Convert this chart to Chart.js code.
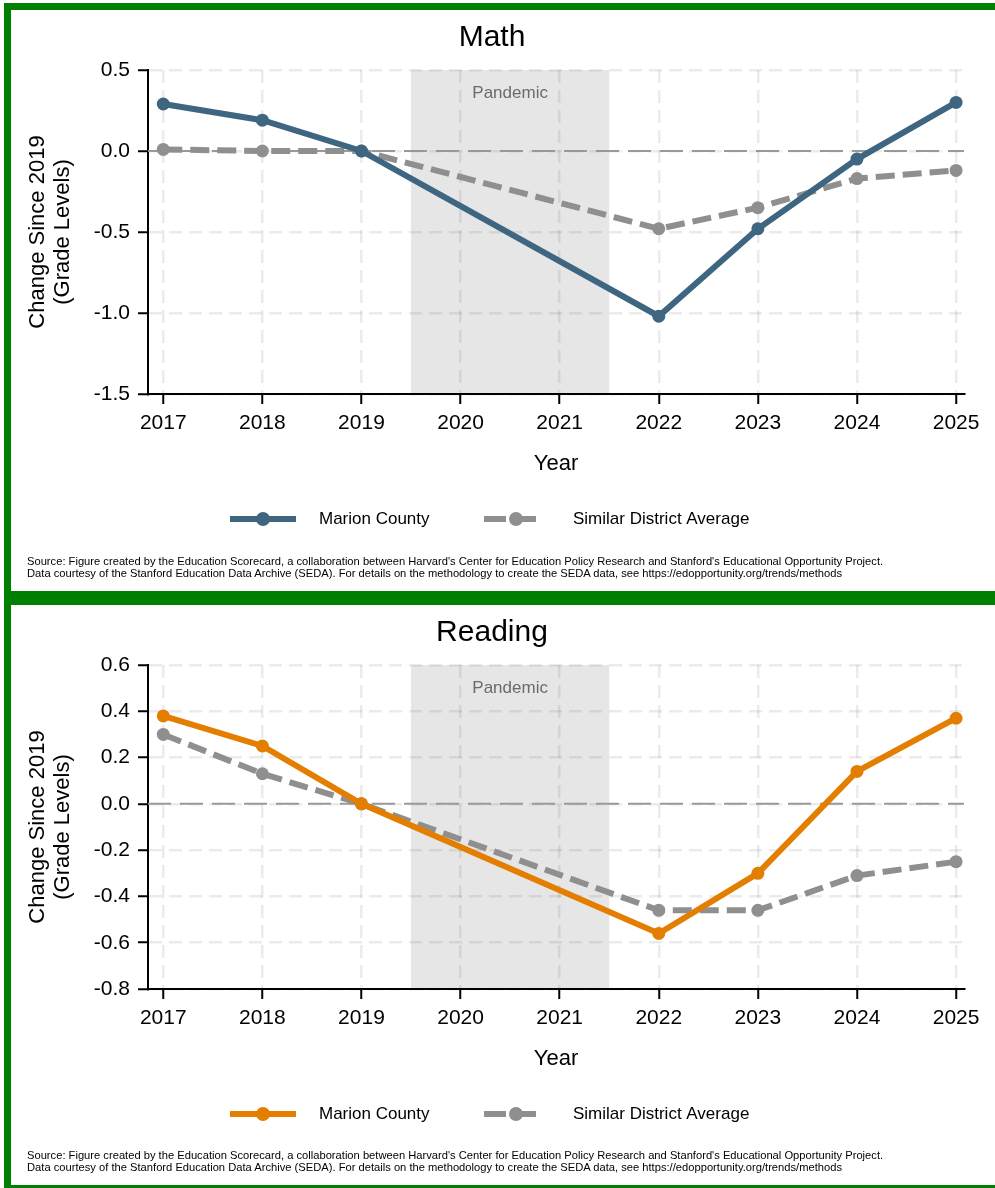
<!DOCTYPE html>
<html><head><meta charset="utf-8">
<script src="https://cdn.jsdelivr.net/npm/chart.js@4"></script>
<style>
html,body{margin:0;padding:0;background:#fff;}
#page{position:relative;width:995px;height:1188px;overflow:hidden;background:#fff;font-family:'Liberation Sans',Arial,sans-serif;}
canvas{position:absolute;left:0;}
.src{position:absolute;left:27px;font-size:11px;line-height:12px;color:#000;white-space:nowrap;transform-origin:0 0;}
.g{position:absolute;background:#008000;}
</style></head><body>
<div id="page">
<canvas id="c1" width="995" height="590" style="top:0px;width:995px;height:590px"></canvas>
<canvas id="c2" width="995" height="590" style="top:595px;width:995px;height:590px"></canvas>
<div class="src" id="s1" style="top:555px"><div class="l1">Source: Figure created by the Education Scorecard, a collaboration between Harvard's Center for Education Policy Research and Stanford's Educational Opportunity Project.</div><div>Data courtesy of the Stanford Education Data Archive (SEDA). For details on the methodology to create the SEDA data, see https://edopportunity.org/trends/methods</div></div>
<div class="src" id="s2" style="top:1149px"><div class="l1">Source: Figure created by the Education Scorecard, a collaboration between Harvard's Center for Education Policy Research and Stanford's Educational Opportunity Project.</div><div>Data courtesy of the Stanford Education Data Archive (SEDA). For details on the methodology to create the SEDA data, see https://edopportunity.org/trends/methods</div></div>
<div class="g" style="left:4px;top:3px;width:991px;height:7px"></div>
<div class="g" style="left:4px;top:3px;width:7px;height:1185px"></div>
<div class="g" style="left:4px;top:591px;width:991px;height:14px"></div>
<div class="g" style="left:4px;top:1185px;width:991px;height:3px"></div>
</div>
<script>
const years = [2017, 2018, 2019, 2020, 2021, 2022, 2023, 2024, 2025];
const mathMarion = [0.29, 0.19, 0.00, null, null, -1.02, -0.48, -0.05, 0.30];
const mathSimilar = [0.01, 0.00, 0.00, null, null, -0.48, -0.35, -0.17, -0.12];
const readingMarion = [0.38, 0.25, 0.00, null, null, -0.56, -0.30, 0.14, 0.37];
const readingSimilar = [0.30, 0.13, 0.00, null, null, -0.46, -0.46, -0.31, -0.25];
const mathYTicks = [0.5, 0.0, -0.5, -1.0, -1.5];
const readingYTicks = [0.6, 0.4, 0.2, 0.0, -0.2, -0.4, -0.6, -0.8];
const pandemicRange = [2019.5, 2021.5];
const pandemicLabel = 'Pandemic';
const seriesNames = ['Marion County', 'Similar District Average'];
const xRange = [2016.846, 2025.08];

const FONT = "'Liberation Sans', Arial, sans-serif";
const GRAY = '#8f8f8f';

function pts(vals) {
  const out = [];
  years.forEach((y, i) => { if (vals[i] !== null) out.push({x: y, y: vals[i]}); });
  return out;
}

function makeChart(id, title, marion, similar, yTicks, color) {
  const deco = {
    id: 'deco',
    beforeDraw(chart) {
      const {ctx, chartArea: a, scales: {x}} = chart;
      const x0 = x.getPixelForValue(pandemicRange[0]);
      const x1 = x.getPixelForValue(pandemicRange[1]);
      ctx.save();
      ctx.fillStyle = '#e6e6e6';
      ctx.fillRect(x0, a.top, x1 - x0, a.bottom - a.top);
      ctx.restore();
    },
    beforeDatasetsDraw(chart) {
      const {ctx, chartArea: a, scales: {x, y}} = chart;
      const yz = y.getPixelForValue(0);
      ctx.save();
      ctx.strokeStyle = '#999999';
      ctx.lineWidth = 2;
      ctx.setLineDash([23, 9]);
      ctx.beginPath(); ctx.moveTo(a.left, yz); ctx.lineTo(a.right, yz); ctx.stroke();
      ctx.setLineDash([]);
      ctx.fillStyle = '#6b6b6b';
      ctx.font = '17px ' + FONT;
      ctx.textAlign = 'center'; ctx.textBaseline = 'middle';
      ctx.fillText(pandemicLabel, (x.getPixelForValue(pandemicRange[0]) + x.getPixelForValue(pandemicRange[1])) / 2, a.top + 23);
      ctx.restore();
    },
    afterDraw(chart) {
      const {ctx} = chart;
      ctx.save();
      ctx.fillStyle = '#000';
      ctx.font = '30px ' + FONT;
      ctx.textAlign = 'center'; ctx.textBaseline = 'middle';
      ctx.fillText(title, 492, 38);
      const ly = 519;
      ctx.strokeStyle = color; ctx.lineWidth = 6;
      ctx.beginPath(); ctx.moveTo(230, ly); ctx.lineTo(296, ly); ctx.stroke();
      ctx.fillStyle = color;
      ctx.beginPath(); ctx.arc(263, ly, 7, 0, Math.PI * 2); ctx.fill();
      ctx.strokeStyle = GRAY; ctx.setLineDash([22, 8]);
      ctx.beginPath(); ctx.moveTo(484, ly); ctx.lineTo(539, ly); ctx.stroke();
      ctx.setLineDash([]);
      ctx.fillStyle = GRAY;
      ctx.beginPath(); ctx.arc(516, ly, 7, 0, Math.PI * 2); ctx.fill();
      ctx.fillStyle = '#000';
      ctx.font = '17px ' + FONT;
      ctx.textAlign = 'left';
      ctx.fillText(seriesNames[0], 319, ly);
      ctx.fillText(seriesNames[1], 573, ly);
      ctx.restore();
    }
  };
  const gridCommon = {
    color: 'rgba(0,0,0,0.08)', lineWidth: 2.5, tickLength: 10,
    tickColor: '#000', tickWidth: 2, tickBorderDash: [], drawTicks: true
  };
  return new Chart(document.getElementById(id), {
    type: 'line',
    data: {
      datasets: [
        {label: seriesNames[0], data: pts(marion), borderColor: color, backgroundColor: color,
         borderWidth: 6, pointRadius: 6.5, pointBackgroundColor: color, pointBorderWidth: 0, spanGaps: true, tension: 0},
        {label: seriesNames[1], data: pts(similar), borderColor: GRAY, backgroundColor: GRAY,
         borderWidth: 6, borderDash: [19, 8], pointRadius: 6.5, pointBackgroundColor: GRAY, pointBorderWidth: 0, spanGaps: true, tension: 0}
      ]
    },
    options: {
      responsive: false, maintainAspectRatio: false, animation: false,
      devicePixelRatio: 1,
      layout: {padding: {top: 70, right: 31, left: 0, bottom: 106}},
      plugins: {legend: {display: false}, tooltip: {enabled: false}, title: {display: false}},
      scales: {
        x: {
          type: 'linear', min: xRange[0], max: xRange[1],
          afterBuildTicks: s => { s.ticks = years.map(v => ({value: v})); },
          afterFit: s => { s.height = 90; },
          ticks: {autoSkip: false, maxRotation: 0, minRotation: 0, padding: 7, color: '#000',
                  font: {family: FONT, size: 21}, callback: v => String(v)},
          grid: gridCommon,
          border: {display: true, color: '#000', width: 2, dash: [13, 7]},
          title: {display: true, text: 'Year', color: '#000', font: {family: FONT, size: 22, lineHeight: 1.15},
                  padding: {top: 0, bottom: 7.4}}
        },
        y: {
          type: 'linear', min: yTicks[yTicks.length - 1], max: yTicks[0],
          afterBuildTicks: s => { s.ticks = yTicks.map(v => ({value: v})); },
          afterFit: s => { s.width = 148; },
          ticks: {padding: 8, color: '#000', font: {family: FONT, size: 21}, callback: v => Number(v).toFixed(1)},
          grid: gridCommon,
          border: {display: true, color: '#000', width: 2, dash: [13, 7]},
          title: {display: true, text: ['Change Since 2019', '(Grade Levels)'], color: '#000',
                  font: {family: FONT, size: 22, lineHeight: 1.15}, padding: {top: 25, bottom: 0}}
        }
      }
    },
    plugins: [deco]
  });
}

makeChart('c1', 'Math', mathMarion, mathSimilar, mathYTicks, '#3e6680');
makeChart('c2', 'Reading', readingMarion, readingSimilar, readingYTicks, '#e37e00');

document.querySelectorAll('.src').forEach(el => {
  const w = el.querySelector('.l1').scrollWidth;
  if (w > 0) el.style.transform = 'scaleX(' + (856 / w) + ')';
});
</script>
</body></html>
